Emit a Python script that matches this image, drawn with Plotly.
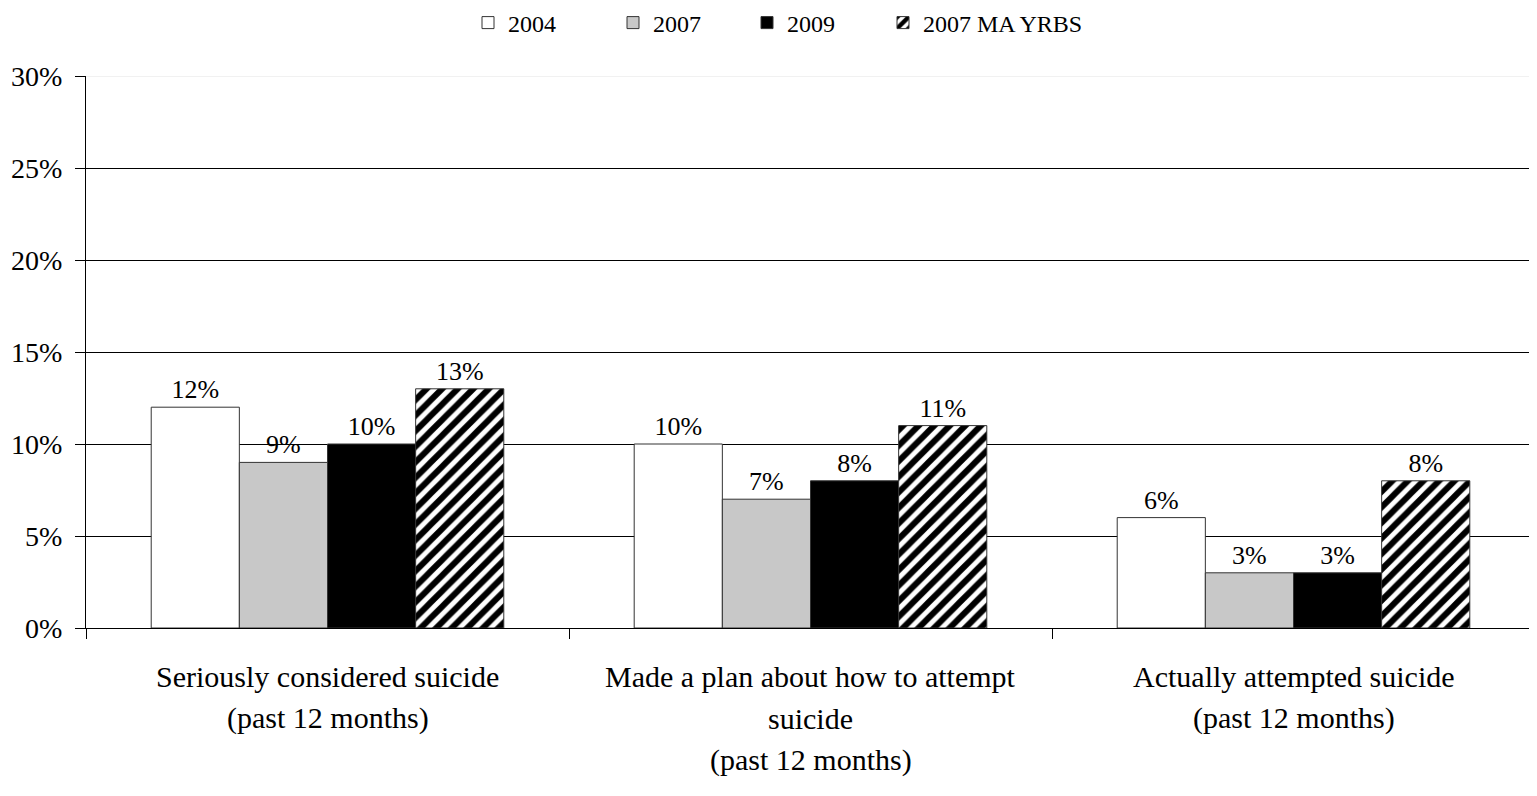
import plotly.graph_objects as go

categories = ["Seriously considered suicide", "Made a plan about how to attempt suicide", "Actually attempted suicide"]
label_lines = [
    ["Seriously considered suicide", "(past 12 months)"],
    ["Made a plan about how to attempt", "suicide", "(past 12 months)"],
    ["Actually attempted suicide", "(past 12 months)"],
]
series_names = ["2004", "2007", "2009", "2007 MA YRBS"]
v2004 = [12, 10, 6]
v2007 = [9, 7, 3]
v2009 = [10, 8, 3]
vMA = [13, 11, 8]
y_ticks = [0, 5, 10, 15, 20, 25, 30]

FONT = "Liberation Serif, Times New Roman, serif"
W, H = 1529, 780
fig = go.Figure()
styles = [
    dict(color="white"),
    dict(color="#c8c8c8"),
    dict(color="black"),
    dict(color="white", pattern=dict(shape="/", fgcolor="black", bgcolor="white",
                                     fgopacity=1, size=11, solidity=0.55)),
]
legend_x = [460, 605, 739, 875]
legend_names = ["legend", "legend2", "legend3", "legend4"]
for name, vals, st, lg in zip(series_names, [v2004, v2007, v2009, vMA], styles, legend_names):
    fig.add_trace(go.Bar(
        x=categories, y=[v / 100 for v in vals], name=name, legend=lg,
        text=[f"{v}%" for v in vals], textposition="outside",
        textfont=dict(family=FONT, size=26, color="black"),
        cliponaxis=False,
        marker=dict(line=dict(color="#333333", width=1), **st),
    ))

for cat, lines in zip(categories, label_lines):
    for i, ln in enumerate(lines):
        fig.add_annotation(x=cat, y=0, xref="x", yref="y", text=ln, showarrow=False,
                           yshift=-48 - 42 * i, font=dict(family=FONT, size=30, color="black"))

fig.add_shape(type="line", xref="paper", yref="y", x0=0, x1=1, y0=0.30, y1=0.30,
              line=dict(color="#e4e4e4", width=1), layer="above")

legend_common = dict(orientation="h", xanchor="left", yanchor="middle",
                     xref="container", yref="container", y=1 - 15 / H,
                     font=dict(family=FONT, size=24), itemwidth=30,
                     bgcolor="rgba(0,0,0,0)")
legends = {lg: dict(x=lx / W, **legend_common) for lg, lx in zip(legend_names, legend_x)}

fig.update_layout(
    width=W, height=H,
    margin=dict(l=78, r=2, t=68, b=160),
    paper_bgcolor="white", plot_bgcolor="white",
    barmode="group", bargap=0.27, bargroupgap=0,
    font=dict(family=FONT, size=24, color="black"),
    showlegend=True,
    **legends,
)
fig.update_xaxes(showticklabels=False, tickson="boundaries", ticks="outside", ticklen=10,
                 tickcolor="black", showline=True, linecolor="black", linewidth=1,
                 showgrid=False, automargin=False)
fig.update_yaxes(range=[0, 0.30], tickvals=[t / 100 for t in y_ticks],
                 ticktext=[f"{t}%" for t in y_ticks], ticks="outside", ticklen=10,
                 tickcolor="black", showline=True, linecolor="black", linewidth=1,
                 gridcolor="black", gridwidth=1, zeroline=False, ticklabelstandoff=7,
                 automargin=False, tickfont=dict(family=FONT, size=28))
fig.write_html("out.html")
